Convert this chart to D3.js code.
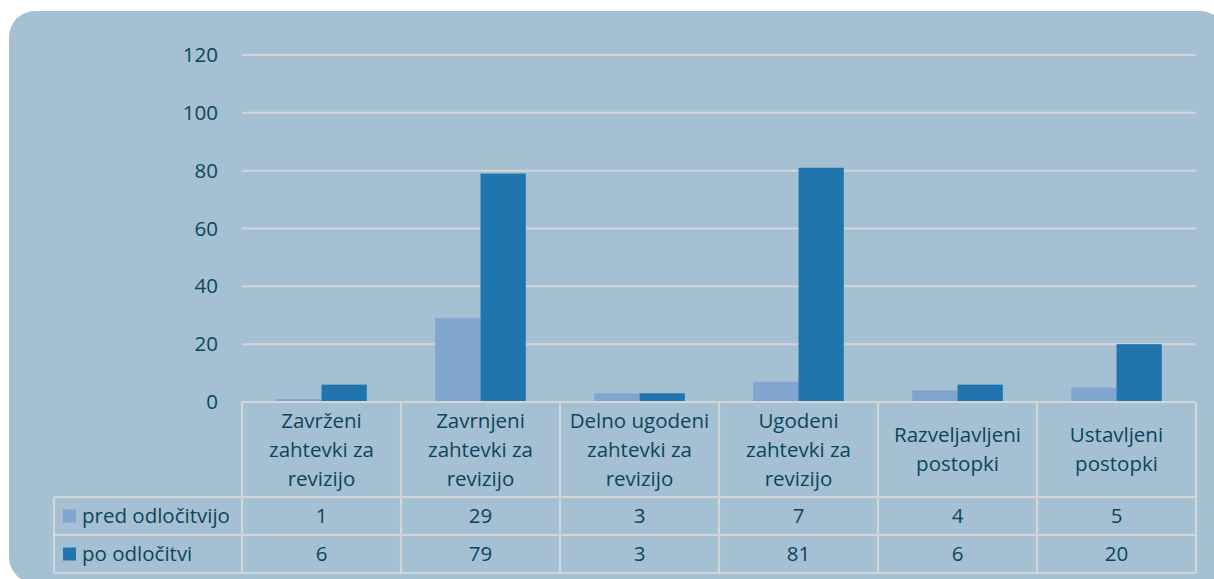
<!DOCTYPE html>
<html><head><meta charset="utf-8">
<script src="https://cdn.jsdelivr.net/npm/d3@7"></script>
<style>body{margin:0;background:#fff}svg{display:block}text{font-family:"Open Sans",sans-serif}</style>
</head><body><svg id="c" width="1214" height="579"></svg>
<script>
const categories = [["Zavrženi","zahtevki za","revizijo"],["Zavrnjeni","zahtevki za","revizijo"],["Delno ugodeni","zahtevki za","revizijo"],["Ugodeni","zahtevki za","revizijo"],["Razveljavljeni","postopki"],["Ustavljeni","postopki"]];
const seriesNames = ["pred odločitvijo","po odločitvi"];
const predValues = [1,29,3,7,4,5];
const poValues = [6,79,3,81,6,20];
const yTicks = [0,20,40,60,80,100,120];
const colors = ["#80a6d0","#2175ae"];
const textColor = "#0b475a";
const gridColor = "#d3d6d8";
const fs = "20.5px";

const svg = d3.select("#c");
svg.append("rect").attr("x",9).attr("y",11).attr("width",1217).attr("height",572).attr("rx",26).attr("fill","#a5c0d3");

const x0 = 242, x1 = 1196, yTop = 55, yBot = 402;
const x = d3.scaleBand().domain(d3.range(categories.length)).range([x0,x1]).paddingInner(0).paddingOuter(0);
const y = d3.scaleLinear().domain([0,120]).range([yBot,yTop]);

// gridlines
svg.append("g").selectAll("line").data(yTicks.filter(d=>d>0)).join("line")
  .attr("x1",x0).attr("x2",x1).attr("y1",d=>y(d)).attr("y2",d=>y(d))
  .attr("stroke",gridColor).attr("stroke-width",2);

// y axis labels
const yAxis = d3.axisLeft(y).tickValues(yTicks).tickSize(0).tickPadding(24);
const ga = svg.append("g").attr("transform",`translate(${x0},0)`).call(yAxis);
ga.select(".domain").remove();
ga.selectAll("text").attr("fill",textColor).style("font-size",fs).style("font-family","'Open Sans',sans-serif");

// bars
const bw = x.bandwidth();
const groupW = bw*0.57;
const xs = d3.scaleBand().domain([0,1]).range([0,groupW]);
const series = [predValues, poValues];
series.forEach((vals,si)=>{
  svg.append("g").selectAll("rect").data(vals).join("rect")
    .attr("x",(d,i)=>x(i)+(bw-groupW)/2+xs(si))
    .attr("width",xs.bandwidth())
    .attr("y",d=>y(d)).attr("height",d=>yBot-y(d))
    .attr("fill",colors[si]);
});

// data table
const rowH = [95,38,38];
const rowY = [yBot, yBot+rowH[0], yBot+rowH[0]+rowH[1], yBot+rowH[0]+rowH[1]+rowH[2]];
const legX = 54;
const tg = svg.append("g").attr("stroke",gridColor).attr("stroke-width",2.2).attr("fill","none");
tg.append("line").attr("x1",x0).attr("x2",x1).attr("y1",rowY[0]).attr("y2",rowY[0]);
[1,2,3].forEach(r=>tg.append("line").attr("x1",legX).attr("x2",x1).attr("y1",rowY[r]).attr("y2",rowY[r]));
tg.append("line").attr("x1",legX).attr("x2",legX).attr("y1",rowY[1]).attr("y2",rowY[3]);
d3.range(categories.length+1).forEach(i=>{
  const xx = i<categories.length? x(i) : x1;
  tg.append("line").attr("x1",xx).attr("x2",xx).attr("y1",rowY[0]).attr("y2",rowY[3]);
});

// category labels
const lh = 29;
categories.forEach((lines,i)=>{
  const cy = (rowY[0]+rowY[1])/2;
  const start = cy - (lines.length-1)*lh/2;
  const t = svg.append("text").attr("text-anchor","middle").attr("fill",textColor).style("font-size",fs);
  lines.forEach((ln,j)=>t.append("tspan").attr("x",x(i)+bw/2).attr("y",start+j*lh).attr("dy","0.35em").text(ln));
});

// legend rows and values
series.forEach((vals,si)=>{
  const cy = (rowY[si+1]+rowY[si+2])/2;
  svg.append("rect").attr("x",63).attr("y",cy-6.5).attr("width",13).attr("height",13).attr("fill",colors[si]);
  svg.append("text").attr("x",82).attr("y",cy).attr("dy","0.35em").attr("fill",textColor).style("font-size",fs).text(seriesNames[si]);
  svg.append("g").selectAll("text").data(vals).join("text")
    .attr("x",(d,i)=>x(i)+bw/2).attr("y",cy).attr("dy","0.35em").attr("text-anchor","middle")
    .attr("fill",textColor).style("font-size",fs).text(d=>d);
});
</script></body></html>
